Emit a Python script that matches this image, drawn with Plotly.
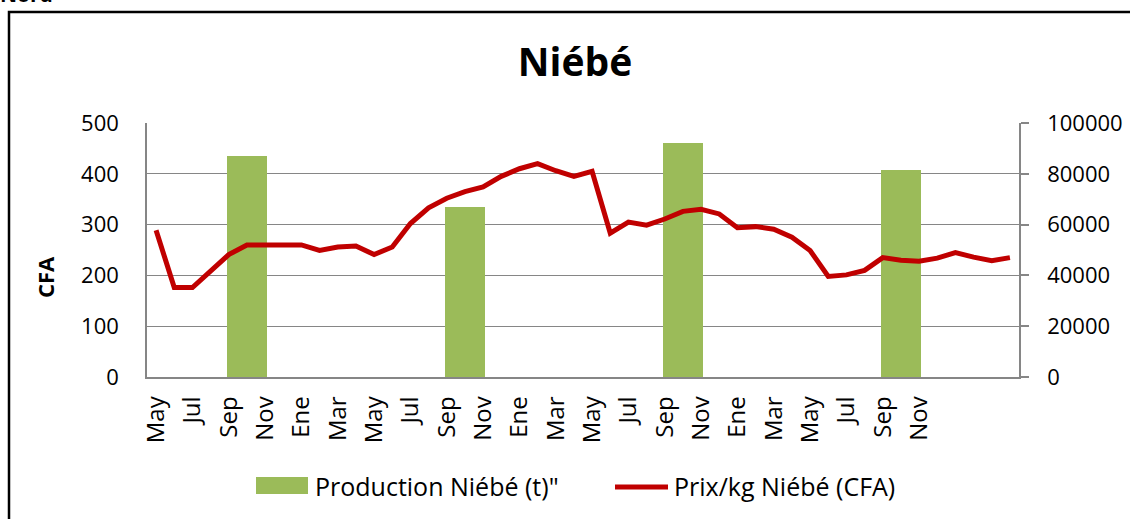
import plotly.graph_objects as go

# ---- data ----
month_names = ["May", "Jun", "Jul", "Ago", "Sep", "Oct", "Nov", "Dic", "Ene", "Feb", "Mar", "Abr"] * 4
tick_labels = ["May", "Jul", "Sep", "Nov", "Ene", "Mar"] * 3 + ["May", "Jul", "Sep", "Nov", "", ""]
price_cfa = [289, 176, 176, 208, 241, 260, 260, 260, 260, 249, 256, 258,
             241, 256, 302, 333, 352, 365, 374, 395, 410, 420, 406, 395,
             405, 283, 305, 299, 311, 326, 330, 321, 294, 296, 291, 275,
             249, 198, 201, 210, 235, 230, 228, 234, 245, 236, 229, 235]
prod_months = [5, 17, 29, 41]           # month index of each harvest
production_t = [87000, 67000, 92000, 81500]

FONT = "Open Sans"
GREEN = "#9BBB59"
RED = "#C00000"
GRID = "#868686"

idx = list(range(len(month_names)))

fig = go.Figure()
fig.add_trace(go.Bar(x=prod_months, y=production_t, width=2.17, marker_color=GREEN,
                     marker_line_width=0, name='Production Niébé (t)"', yaxis="y",
                     showlegend=False))
fig.add_trace(go.Scatter(x=idx, y=price_cfa, mode="lines", line=dict(color=RED, width=5),
                         name="Prix/kg Niébé (CFA)", yaxis="y2", showlegend=False))

L, R, T, B = 147, 1019, 123, 377
W, H = 1130, 519
def px(x):
    return (x - L) / (R - L)
def py(y):
    return (B - y) / (B - T)

fig.update_layout(
    width=W, height=H,
    margin=dict(l=L, r=W - R, t=T, b=H - B, autoexpand=False),
    paper_bgcolor="white", plot_bgcolor="white",
    font=dict(family=FONT, color="black", size=22),
    title=dict(text="<b>Niébé</b>", x=575 / W, xref="container", xanchor="center",
               y=1 - 62 / H, yref="container", yanchor="middle",
               font=dict(size=39, family=FONT, color="black")),
    xaxis=dict(range=[-0.5, 47.5], tickmode="array",
               tickvals=idx[::2], ticktext=tick_labels, tickangle=-90,
               tickfont=dict(size=24), showgrid=False, zeroline=False,
               showline=True, linecolor=GRID, linewidth=1.5, ticks="",
               ticklabelstandoff=8, automargin=False),
    yaxis=dict(side="right", range=[0, 100000], dtick=20000, showgrid=True,
               gridcolor=GRID, gridwidth=1.2, zeroline=False, showline=True,
               linecolor=GRID, linewidth=1.5, ticks="outside", ticklen=8,
               tickcolor=GRID, tickwidth=1.5, tickfont=dict(size=22),
               tickformat="d", exponentformat="none", ticklabelstandoff=14,
               automargin=False),
    yaxis2=dict(side="left", overlaying="y", range=[0, 500], dtick=100,
                showgrid=False, zeroline=False, showline=True, linecolor=GRID,
                linewidth=1.5, ticks="", tickfont=dict(size=22),
                ticklabelstandoff=22, automargin=False),
    bargap=0,
)

# y axis title
fig.add_annotation(text="<b>CFA</b>", xref="paper", yref="paper", x=px(45), y=py(277),
                   textangle=-90, showarrow=False, font=dict(size=22, family=FONT),
                   xanchor="center", yanchor="middle")
# "Nord" header, cut by the top edge as in the source image
fig.add_annotation(text="<b>Nord</b>", xref="paper", yref="paper", x=px(-2), y=py(10),
                   showarrow=False, font=dict(size=21, family=FONT),
                   xanchor="left", yanchor="bottom")
# outer border
fig.add_shape(type="rect", xref="paper", yref="paper", x0=px(9), x1=px(1140),
              y0=py(12), y1=py(530), line=dict(color="black", width=2.5),
              fillcolor="rgba(0,0,0,0)", layer="above")
# legend
fig.add_shape(type="rect", xref="paper", yref="paper", x0=px(256), x1=px(308),
              y0=py(477), y1=py(494), fillcolor=GREEN, line=dict(width=0))
fig.add_annotation(text='Production Niébé (t)"', xref="paper", yref="paper",
                   x=px(313), y=py(486), xanchor="left", yanchor="middle",
                   showarrow=False, font=dict(size=25, family=FONT))
fig.add_shape(type="line", xref="paper", yref="paper", x0=px(615), x1=px(668),
              y0=py(487), y1=py(487), line=dict(color=RED, width=5))
fig.add_annotation(text="Prix/kg Niébé (CFA)", xref="paper", yref="paper",
                   x=px(672), y=py(486), xanchor="left", yanchor="middle",
                   showarrow=False, font=dict(size=25, family=FONT))

fig.write_html("out.html", config={"displayModeBar": False},
               post_script="document.body.style.margin='0';document.body.style.overflow='hidden';")
